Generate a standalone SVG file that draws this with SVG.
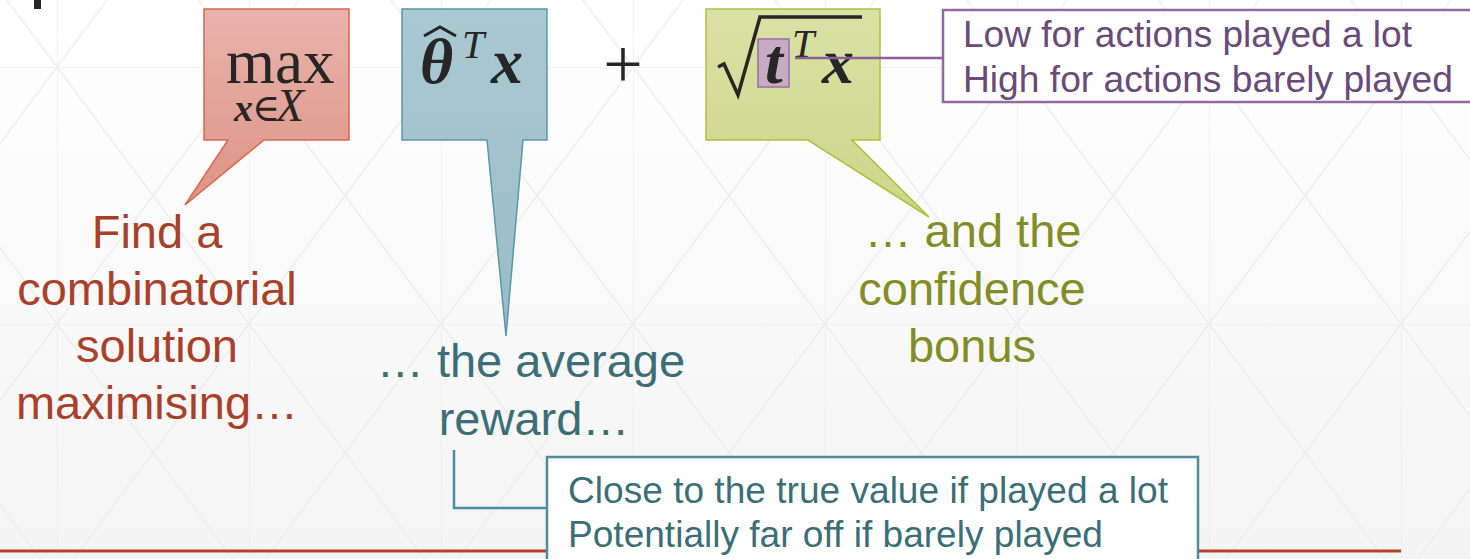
<svg xmlns="http://www.w3.org/2000/svg" width="1470" height="559" viewBox="0 0 1470 559">
  <defs>
    <linearGradient id="bg" x1="0" y1="0" x2="0" y2="1">
      <stop offset="0" stop-color="#ffffff"/>
      <stop offset="1" stop-color="#f4f4f4"/>
    </linearGradient>
    <pattern id="grid" patternUnits="userSpaceOnUse" x="57" y="67" width="192" height="257">
      <path d="M0,0 V257 M0,0 H192 M0,0 L192,257 M192,0 L0,257" stroke="#ededed" stroke-width="1.4" fill="none"/>
    </pattern>
    <linearGradient id="gRed" x1="0" y1="0" x2="0" y2="1">
      <stop offset="0" stop-color="#e9b3ab"/>
      <stop offset="1" stop-color="#dd9385"/>
    </linearGradient>
    <linearGradient id="gBlue" x1="0" y1="0" x2="0" y2="1">
      <stop offset="0" stop-color="#aac9d2"/>
      <stop offset="1" stop-color="#98bcc7"/>
    </linearGradient>
    <linearGradient id="gGreen" x1="0" y1="0" x2="0" y2="1">
      <stop offset="0" stop-color="#d9e2a5"/>
      <stop offset="1" stop-color="#ccd588"/>
    </linearGradient>
    <style>
      .sans { font-family: "Liberation Sans", Arial, sans-serif; }
      .math { font-family: "Liberation Serif", "DejaVu Serif", serif; fill: #262626; }
      .bi { font-weight: bold; font-style: italic; }
      .it { font-style: italic; }
      .red { fill: #a9412a; font-size: 47px; }
      .teal { fill: #3c6e78; }
      .olive { fill: #848c26; font-size: 47px; }
      .purple { fill: #6a4a78; font-size: 36px; }
      .note { font-size: 36px; }
      .bubble { stroke-width: 1.5; }
    </style>
  </defs>

  <rect width="1470" height="559" fill="url(#bg)"/>
  <rect width="1470" height="559" fill="url(#grid)"/>

  <rect x="34" y="0" width="7" height="9" fill="#262626"/>

  <line x1="0" y1="551" x2="1401" y2="551" stroke="#b5432b" stroke-width="3"/>

  <g id="max-node">
    <path class="bubble" d="M204,9 H349 V140 H264 L185,205 L228,140 H204 Z" fill="url(#gRed)" stroke="#d5684f"/>
    <text class="math"><tspan x="226" y="83" font-size="63">max</tspan><tspan class="bi" x="234" y="121" font-size="38">x</tspan><tspan x="252" y="121" font-size="38">∈</tspan><tspan class="it" x="276" y="121" font-size="46">X</tspan></text>
  </g>

  <g id="theta-node">
    <path class="bubble" d="M402,9 H547 V140 H523 L506,336 L487,140 H402 Z" fill="url(#gBlue)" stroke="#5a97a7"/>
    <path d="M424,36 L440,27 L456,36" fill="none" stroke="#262626" stroke-width="3"/>
    <text class="math"><tspan class="bi" x="420" y="83" font-size="64">θ</tspan><tspan class="it" x="462" y="58" font-size="40">T</tspan><tspan class="bi" x="491" y="83" font-size="64">x</tspan></text>
  </g>

  <text class="math" x="623" y="88" font-size="70" text-anchor="middle">+</text>

  <g id="bonus-node">
    <path class="bubble" d="M706,9 H880 V140 H852 L929,217 L808,140 H706 Z" fill="url(#gGreen)" stroke="#b2be3e"/>
    <polyline points="718,67 724,64 738,95 760,17 862,17" fill="none" stroke="#262626" stroke-width="3.5" stroke-linejoin="miter"/>
    <rect x="758" y="39" width="31" height="48" fill="#c3a6c8" fill-opacity="0.9" stroke="#9b6ea3" stroke-width="1.5"/>
    <text class="math"><tspan class="bi" x="765" y="83" font-size="64">t</tspan><tspan class="it" x="792" y="57" font-size="40">T</tspan><tspan class="bi" x="822" y="83" font-size="64">x</tspan></text>
  </g>

  <g id="purple-note">
    <rect x="943" y="10" width="540" height="92" fill="#ffffff" stroke="#8f6a9a" stroke-width="2.5"/>
    <text class="sans purple" x="963" y="47" textLength="449" lengthAdjust="spacingAndGlyphs">Low for actions played a lot</text>
    <text class="sans purple" x="963" y="92" textLength="490" lengthAdjust="spacingAndGlyphs">High for actions barely played</text>
  </g>

  <g id="teal-note">
    <rect x="547" y="457" width="651" height="120" fill="#ffffff" stroke="#4e8d9c" stroke-width="2.5"/>
    <text class="sans teal note" x="568" y="503" textLength="600" lengthAdjust="spacingAndGlyphs">Close to the true value if played a lot</text>
    <text class="sans teal note" x="568" y="547" textLength="535" lengthAdjust="spacingAndGlyphs">Potentially far off if barely played</text>
  </g>

  <g id="connectors">
    <polyline points="454,450 454,508 546,508" fill="none" stroke="#4e8d9c" stroke-width="2.5"/>
    <line x1="795" y1="58" x2="943" y2="58" stroke="#8b5f97" stroke-width="2.5"/>
  </g>

  <g id="label-red">
    <text class="sans red" text-anchor="middle" x="157" y="248">Find a</text>
    <text class="sans red" text-anchor="middle" x="157" y="305">combinatorial</text>
    <text class="sans red" text-anchor="middle" x="157" y="362">solution</text>
    <text class="sans red" text-anchor="middle" x="157" y="419">maximising…</text>
  </g>

  <g id="label-teal">
    <text class="sans teal" text-anchor="middle" x="531" y="377" font-size="47">… the average</text>
    <text class="sans teal" text-anchor="middle" x="534" y="435" font-size="47">reward…</text>
  </g>

  <g id="label-olive">
    <text class="sans olive" text-anchor="middle" x="973" y="247">… and the</text>
    <text class="sans olive" text-anchor="middle" x="972" y="305">confidence</text>
    <text class="sans olive" text-anchor="middle" x="972" y="362">bonus</text>
  </g>
</svg>
